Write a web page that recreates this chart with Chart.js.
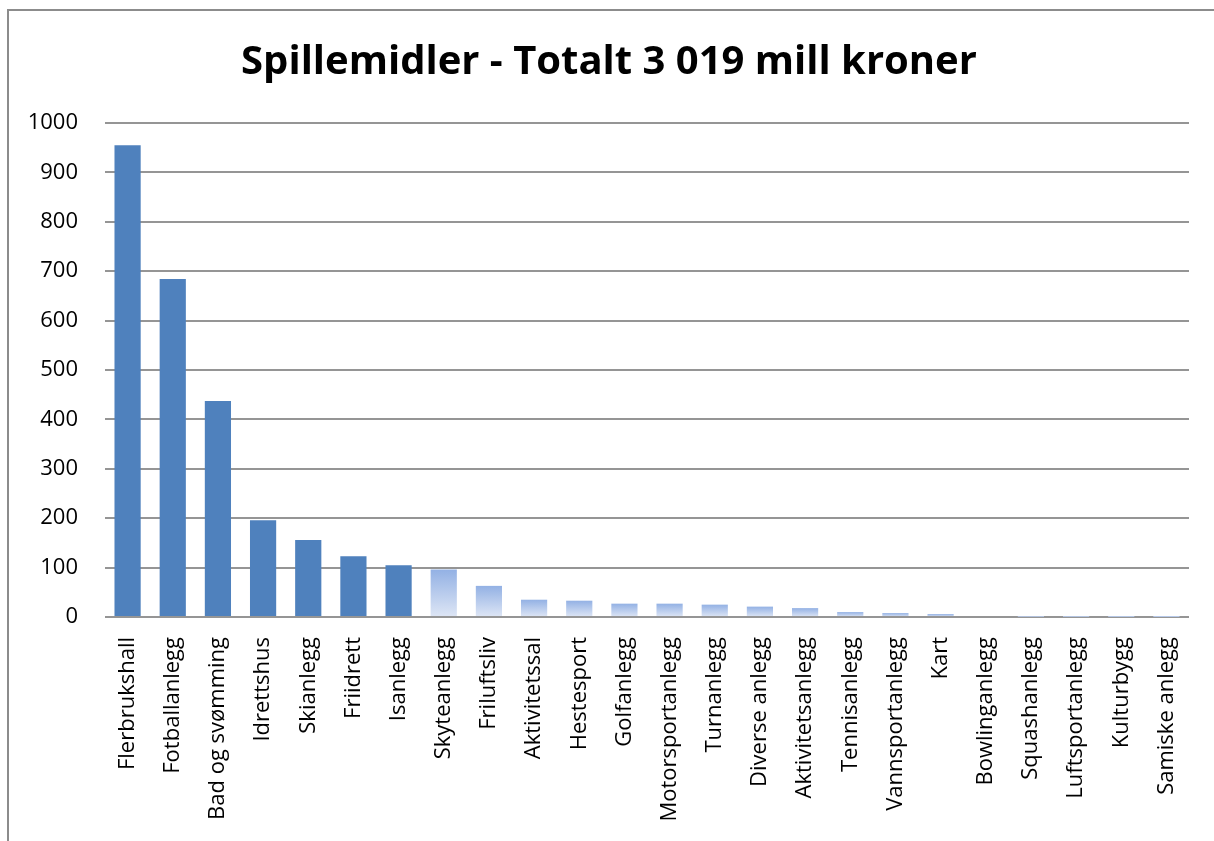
<!DOCTYPE html>
<html>
<head>
<meta charset="utf-8">
<script src="https://cdn.jsdelivr.net/npm/chart.js@4.4.0/dist/chart.umd.min.js"></script>
<style>
  html, body { margin: 0; padding: 0; background: #fff; }
  #wrap { width: 1214px; height: 841px; position: relative; }
</style>
</head>
<body>
<div id="wrap"><canvas id="myBarChart" width="1214" height="841"></canvas></div>
<script>
// anlegg (categories) and spillemidler in mill kroner
var anlegg = [
	"Flerbrukshall", "Fotballanlegg", "Bad og svømming", "Idrettshus", "Skianlegg",
	"Friidrett", "Isanlegg", "Skyteanlegg", "Friluftsliv", "Aktivitetssal",
	"Hestesport", "Golfanlegg", "Motorsportanlegg", "Turnanlegg", "Diverse anlegg",
	"Aktivitetsanlegg", "Tennisanlegg", "Vannsportanlegg", "Kart", "Bowlinganlegg",
	"Squashanlegg", "Luftsportanlegg", "Kulturbygg", "Samiske anlegg"
];
var millKroner = [
	955, 684, 437, 196, 156,
	123, 105, 96, 63, 35,
	33, 27, 27, 25, 21,
	18, 10, 8, 6, 2,
	0.4, 0.3, 0.2, 0.1
];
var yTicks = [0, 100, 200, 300, 400, 500, 600, 700, 800, 900, 1000];

var solidCount = 7;
var fontFam = "'Open Sans', 'Liberation Sans', sans-serif";

function barColor(c) {
	if (c.dataIndex < solidCount) return '#4F81BD';
	var chart = c.chart;
	if (!chart.chartArea || !chart.scales.y) return '#A8C0E8';
	var y = chart.scales.y;
	var top = y.getPixelForValue(c.raw);
	var base = y.getPixelForValue(0);
	if (base - top < 1) top = base - 1;
	var g = chart.ctx.createLinearGradient(0, top, 0, base);
	g.addColorStop(0, '#93B1E4');
	g.addColorStop(1, '#DEE6F5');
	return g;
}

var framePlugin = {
	id: 'frame',
	beforeDraw: function(chart) {
		var ctx = chart.ctx;
		ctx.save();
		ctx.fillStyle = '#fff';
		ctx.fillRect(0, 0, chart.width, chart.height);
		ctx.strokeStyle = '#8C8C8C';
		ctx.lineWidth = 2;
		ctx.beginPath();
		ctx.moveTo(8, chart.height);
		ctx.lineTo(8, 10);
		ctx.lineTo(chart.width, 10);
		ctx.stroke();
		ctx.restore();
	}
};

var chartdata = {
	labels: anlegg,
	datasets: [{
		label: 'Spillemidler',
		data: millKroner,
		backgroundColor: barColor,
		borderWidth: 0,
		categoryPercentage: 0.58,
		barPercentage: 1.0
	}]
};

var ctx = document.getElementById('myBarChart');
var barGraph = new Chart(ctx, {
	type: 'bar',
	data: chartdata,
	plugins: [framePlugin],
	options: {
		responsive: false,
		animation: false,
		devicePixelRatio: 1,
		layout: { padding: { left: 29, right: 25, top: 0, bottom: 0 } },
		plugins: {
			legend: { display: false },
			tooltip: { enabled: false },
			title: {
				display: true,
				text: 'Spillemidler - Totalt 3 019 mill kroner',
				color: '#000',
				font: { family: fontFam, size: 40, weight: 'bold', lineHeight: 1.2 },
				padding: { top: 39, bottom: 36 }
			}
		},
		scales: {
			x: {
				grid: { display: false },
				border: { display: false },
				ticks: {
					color: '#000',
					font: { family: fontFam, size: 22 },
					maxRotation: 90,
					minRotation: 90,
					autoSkip: false,
					padding: 12
				},
				afterFit: function(scale) { scale.height = 224; }
			},
			y: {
				min: 0,
				max: 1000,
				afterBuildTicks: function(scale) {
					scale.ticks = yTicks.map(function(v) { return { value: v }; });
				},
				grid: { color: '#959595', lineWidth: 2, drawTicks: false },
				border: { display: false },
				ticks: {
					color: '#000',
					font: { family: fontFam, size: 22 },
					padding: 27,
					callback: function(v) { return String(v); }
				},
				afterFit: function(scale) { scale.width = 76; }
			}
		}
	}
});
</script>
</body>
</html>
